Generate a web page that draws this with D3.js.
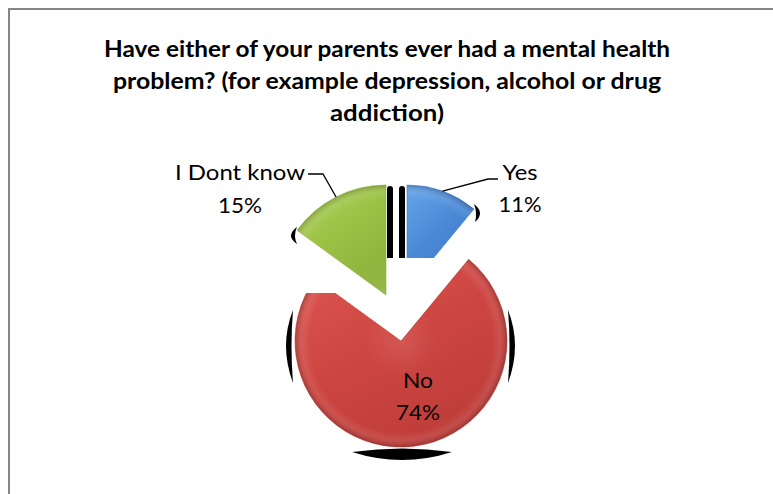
<!DOCTYPE html>
<html>
<head>
<meta charset="utf-8">
<script src="https://cdn.jsdelivr.net/npm/d3@7"></script>
<style>
  html, body { margin: 0; padding: 0; background: #fff; overflow: hidden; }
  text { font-family: Lato, "Open Sans", sans-serif; fill: #000; }
</style>
</head>
<body>
<svg id="chart" width="773" height="494"></svg>
<script>
// Survey answers (share of respondents, %)
const categories = ["Yes", "No", "I Dont know"];
const percents = [11, 74, 15];
const percentLabels = ["11%", "74%", "15%"];
const titleLines = [
  "Have either of your parents ever had a mental health",
  "problem? (for example depression, alcohol or drug",
  "addiction)"
];

// Exploded slice geometry: each wedge sits at its own centre
const sliceGeom = {
  "Yes":         { cx: 407, cy: 290, r: 105 },
  "No":          { cx: 401, cy: 341, r: 106 },
  "I Dont know": { cx: 386, cy: 295, r: 110 }
};
const sliceColors = {
  "Yes":         ["#62a0e6", "#4a88d6", "#3c76c0"],
  "No":          ["#dc544f", "#cd4541", "#bb3c38"],
  "I Dont know": ["#acd158", "#9bc044", "#8bb038"]
};
// label placement: [x centre, name baseline, value baseline, name width, value width]
const labelGeom = {
  "Yes":         { x: 520, y1: 180, y2: 212, w1: 35, w2: 43 },
  "No":          { x: 418, y1: 388, y2: 420, w1: 30, w2: 44 },
  "I Dont know": { x: 240, y1: 180, y2: 213, w1: 130, w2: 44 }
};
// leader line elbows and ends (from slice rim to label)
const leaderGeom = {
  "Yes":         [[488, 179], [498, 179]],
  "I Dont know": [[323, 174], [308, 174]]
};

const svg = d3.select("#chart");
const defs = svg.append("defs");

// chart frame
svg.append("rect")
  .attr("x", 9).attr("y", 9).attr("width", 820).attr("height", 560)
  .attr("fill", "#fff").attr("stroke", "#868686").attr("stroke-width", 2);

// title
const titleY = d3.scaleLinear().domain([0, 1]).range([57, 89]);
const titleW = [566, 548, 114];
svg.append("g").selectAll("text").data(titleLines).join("text")
  .attr("x", 387).attr("y", (d, i) => titleY(i))
  .attr("text-anchor", "middle")
  .attr("font-size", 22).attr("font-weight", "bold")
  .attr("textLength", (d, i) => titleW[i]).attr("lengthAdjust", "spacingAndGlyphs")
  .text(d => d);

const data = categories.map((c, i) => ({ name: c, value: percents[i], label: percentLabels[i] }));
const pie = d3.pie().sort(null).value(d => d.value).startAngle(0).endAngle(2 * Math.PI);
const arcs = pie(data);

// gradients per slice: body shading plus a bevelled rim around the wedge centre
categories.forEach((c, i) => {
  const geo = sliceGeom[c];
  const g = defs.append("linearGradient").attr("id", "grad" + i)
    .attr("x1", 0.2).attr("y1", 0).attr("x2", 0.8).attr("y2", 1);
  g.append("stop").attr("offset", 0).attr("stop-color", sliceColors[c][0]);
  g.append("stop").attr("offset", 0.45).attr("stop-color", sliceColors[c][1]);
  g.append("stop").attr("offset", 1).attr("stop-color", sliceColors[c][2]);
  const rim = defs.append("radialGradient").attr("id", "rim" + i)
    .attr("gradientUnits", "userSpaceOnUse")
    .attr("cx", 0).attr("cy", 0).attr("r", geo.r);
  rim.append("stop").attr("offset", 0).attr("stop-color", "#fff").attr("stop-opacity", 0.10);
  rim.append("stop").attr("offset", 0.35).attr("stop-color", "#fff").attr("stop-opacity", 0);
  rim.append("stop").attr("offset", 0.86).attr("stop-color", "#fff").attr("stop-opacity", 0);
  rim.append("stop").attr("offset", 0.93).attr("stop-color", "#fff").attr("stop-opacity", 0.08);
  rim.append("stop").attr("offset", 1).attr("stop-color", "#000").attr("stop-opacity", 0.2);
});

// clipping of the rendered wedges
defs.append("clipPath").attr("id", "clipYes")
  .append("rect").attr("x", 0).attr("y", 0).attr("width", 773).attr("height", 258);
defs.append("clipPath").attr("id", "clipNo")
  .append("path").attr("d", "M0,293H401V0H773V494H0Z");
const clipOf = { "Yes": "url(#clipYes)", "No": "url(#clipNo)", "I Dont know": null };

// dark side faces of the 3-D wedges (crescents and edge strips)
function crescent(p0, p1, outerMid, innerMid) {
  const mx = (p0[0] + p1[0]) / 2, my = (p0[1] + p1[1]) / 2;
  const co = [2 * outerMid[0] - mx, 2 * outerMid[1] - my];
  const ci = [2 * innerMid[0] - mx, 2 * innerMid[1] - my];
  const p = d3.path();
  p.moveTo(p0[0], p0[1]);
  p.quadraticCurveTo(co[0], co[1], p1[0], p1[1]);
  p.quadraticCurveTo(ci[0], ci[1], p0[0], p0[1]);
  p.closePath();
  return p.toString();
}
const sides = svg.append("g").attr("fill", "#000");
// "No" wedge: left, right and bottom
sides.append("path").attr("d", crescent([293, 310], [293, 383], [286, 346], [291.5, 346]));
sides.append("path").attr("d", crescent([508, 310], [508, 383], [515, 346], [509.5, 346]));
sides.append("path").attr("d", crescent([352, 452], [452, 452], [402, 460], [402, 448.5]));
// "Yes" wedge: tip and straight edge
sides.append("path").attr("d", crescent([474, 204], [475, 222], [480, 213], [476, 213]));
sides.append("path").attr("d", "M399,258V189Q399,186 402,186Q405,186 405,189V258Z");
// "I Dont know" wedge: tip and straight edge
sides.append("path").attr("d", crescent([297, 227], [297, 244], [291, 235.5], [295, 235.5]));
sides.append("path").attr("d", "M387,258V189Q387,186 390,186Q393,186 393,189V258Z");

// wedges
const slices = svg.append("g");
arcs.forEach((a, i) => {
  const g = sliceGeom[a.data.name];
  const arc = d3.arc().innerRadius(0).outerRadius(g.r);
  const holder = slices.append("g").attr("clip-path", clipOf[a.data.name]);
  const grp = holder.append("g").attr("transform", `translate(${g.cx},${g.cy})`);
  grp.append("path").attr("d", arc(a)).attr("fill", `url(#grad${i})`);
  grp.append("path").attr("d", arc(a)).attr("fill", `url(#rim${i})`)
    .attr("stroke", sliceColors[a.data.name][2]).attr("stroke-width", 0.8).attr("stroke-opacity", 0.7);
});

// leader lines from slice rim to label
arcs.forEach(a => {
  const pts = leaderGeom[a.data.name];
  if (!pts) return;
  const g = sliceGeom[a.data.name];
  const mid = (a.startAngle + a.endAngle) / 2;
  const start = [g.cx + g.r * Math.sin(mid), g.cy - g.r * Math.cos(mid)];
  svg.append("path")
    .attr("d", d3.line()([start, ...pts]))
    .attr("fill", "none").attr("stroke", "#000").attr("stroke-width", 1.3);
});

// data labels
const labels = svg.append("g").attr("text-anchor", "middle").attr("font-size", 21);
arcs.forEach(a => {
  const L = labelGeom[a.data.name];
  labels.append("text").attr("x", L.x).attr("y", L.y1)
    .attr("textLength", L.w1).attr("lengthAdjust", "spacingAndGlyphs")
    .text(a.data.name);
  labels.append("text").attr("x", L.x).attr("y", L.y2)
    .attr("textLength", L.w2).attr("lengthAdjust", "spacingAndGlyphs")
    .text(a.data.label);
});
</script>
</body>
</html>
